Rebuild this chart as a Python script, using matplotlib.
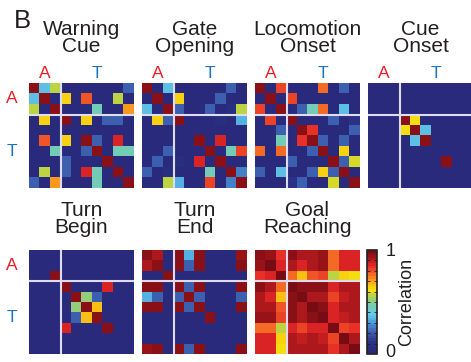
import numpy as np
import matplotlib
matplotlib.use("Agg")
from matplotlib import pyplot as plt
from matplotlib.colors import LinearSegmentedColormap

plt.rcParams['font.family'] = ['Liberation Sans', 'DejaVu Sans']

W, H = 471, 362

titles = ["Warning\nCue", "Gate\nOpening", "Locomotion\nOnset", "Cue\nOnset",
          "Turn\nBegin", "Turn\nEnd", "Goal\nReaching"]
n_a = 3  # first 3 cells are A, remaining 7 are T

warning_cue = [
    [.97, .36, .56, .03, .03, .03, .03, .03, .03, .20],
    [.36, .97, .03, .63, .03, .78, .03, .03, .56, .03],
    [.56, .03, .97, .03, .03, .03, .45, .03, .03, .70],
    [.03, .63, .03, .97, .03, .63, .03, .20, .20, .03],
    [.03, .03, .03, .03, .03, .03, .03, .03, .03, .03],
    [.03, .78, .03, .63, .03, .97, .20, .03, .85, .03],
    [.03, .03, .45, .03, .03, .20, .97, .03, .45, .45],
    [.03, .03, .03, .20, .03, .03, .03, .97, .03, .03],
    [.03, .56, .03, .20, .03, .85, .45, .03, .97, .03],
    [.20, .03, .70, .03, .03, .03, .45, .03, .03, .97],
]
gate_opening = [
    [.97, .03, .36, .03, .03, .03, .03, .03, .20, .03],
    [.03, .97, .03, .63, .03, .03, .03, .20, .03, .03],
    [.36, .03, .97, .20, .03, .03, .20, .03, .08, .56],
    [.03, .63, .20, .97, .03, .03, .03, .08, .03, .33],
    [.03, .03, .03, .03, .03, .03, .03, .03, .03, .03],
    [.03, .03, .03, .03, .03, .97, .03, .87, .03, .03],
    [.03, .03, .20, .03, .03, .03, .97, .03, .45, .80],
    [.03, .20, .03, .08, .03, .87, .03, .97, .03, .03],
    [.20, .03, .08, .03, .03, .03, .45, .03, .97, .25],
    [.03, .03, .56, .33, .03, .03, .80, .03, .25, .97],
]
locomotion_onset = [
    [.97, .03, .80, .03, .03, .03, .76, .03, .20, .03],
    [.03, .97, .03, .80, .03, .03, .03, .03, .03, .03],
    [.80, .03, .97, .03, .20, .45, .76, .03, .36, .03],
    [.03, .80, .03, .97, .03, .03, .03, .20, .03, .10],
    [.03, .03, .20, .03, .97, .84, .03, .03, .03, .20],
    [.03, .03, .45, .03, .84, .97, .20, .03, .20, .03],
    [.76, .03, .76, .03, .03, .20, .97, .03, .63, .03],
    [.03, .03, .03, .20, .03, .03, .03, .97, .20, .58],
    [.20, .03, .36, .03, .03, .20, .63, .20, .97, .03],
    [.03, .03, .03, .10, .20, .03, .03, .58, .03, .97],
]
cue_onset = [
    [.03, .03, .03, .03, .03, .03, .03, .03, .03, .03],
    [.03, .03, .03, .03, .03, .03, .03, .03, .03, .03],
    [.03, .03, .03, .03, .03, .03, .03, .03, .03, .03],
    [.03, .03, .03, .97, .62, .03, .03, .03, .03, .03],
    [.03, .03, .03, .62, .97, .36, .03, .03, .03, .03],
    [.03, .03, .03, .03, .36, .97, .03, .03, .03, .03],
    [.03, .03, .03, .03, .03, .03, .03, .03, .03, .03],
    [.03, .03, .03, .03, .03, .03, .03, .97, .03, .03],
    [.03, .03, .03, .03, .03, .03, .03, .03, .03, .03],
    [.03, .03, .03, .03, .03, .03, .03, .03, .03, .03],
]
turn_begin = [
    [.03, .03, .03, .03, .03, .03, .03, .03, .03, .03],
    [.03, .03, .03, .03, .03, .03, .03, .03, .03, .03],
    [.03, .03, .97, .03, .03, .03, .03, .03, .03, .03],
    [.03, .03, .03, .97, .03, .03, .03, .87, .03, .03],
    [.03, .03, .03, .03, .97, .52, .22, .03, .03, .03],
    [.03, .03, .03, .03, .52, .97, .66, .03, .03, .03],
    [.03, .03, .03, .03, .22, .66, .97, .03, .03, .03],
    [.03, .03, .03, .87, .03, .03, .03, .97, .03, .03],
    [.03, .03, .03, .03, .03, .03, .03, .03, .03, .03],
    [.03, .03, .03, .03, .03, .03, .03, .03, .03, .03],
]
turn_end = [
    [.97, .92, .03, .95, .33, .95, .03, .03, .03, .93],
    [.92, .97, .03, .95, .22, .95, .03, .03, .03, .95],
    [.03, .03, .97, .03, .03, .03, .03, .03, .03, .03],
    [.95, .95, .03, .97, .22, .95, .03, .03, .03, .95],
    [.33, .22, .03, .22, .97, .22, .03, .03, .03, .22],
    [.95, .95, .03, .95, .22, .97, .03, .03, .03, .95],
    [.03, .03, .03, .03, .03, .03, .97, .03, .03, .03],
    [.03, .03, .03, .03, .03, .03, .03, .03, .03, .03],
    [.03, .03, .03, .03, .03, .03, .03, .03, .03, .03],
    [.93, .95, .03, .95, .22, .95, .03, .03, .03, .97],
]
goal_reaching = [
    [.97, .93, .83, .95, .92, .92, .94, .75, .86, .86],
    [.93, 1.0, .86, .92, .86, .90, .93, .75, .86, .86],
    [.83, .86, 1.0, .76, .65, .79, .80, .55, .63, .60],
    [.95, .92, .76, 1.0, .95, .97, .97, .85, .90, .90],
    [.92, .86, .65, .95, 1.0, .90, .90, .80, .88, .90],
    [.92, .90, .79, .97, .90, 1.0, .97, .85, .90, .90],
    [.94, .93, .80, .97, .90, .97, 1.0, .85, .88, .90],
    [.75, .75, .55, .85, .80, .85, .85, 1.0, .80, .83],
    [.86, .86, .63, .90, .88, .90, .88, .80, 1.0, .92],
    [.86, .86, .60, .90, .90, .90, .90, .83, .92, 1.0],
]
matrices = [warning_cue, gate_opening, locomotion_onset, cue_onset,
            turn_begin, turn_end, goal_reaching]

# jet-like map, slightly muted at the blue end
cmap = LinearSegmentedColormap.from_list("corr", [
    (0.00, (0.16, 0.16, 0.47)),
    (0.10, (0.17, 0.19, 0.52)),
    (0.20, (0.24, 0.36, 0.68)),
    (0.30, (0.28, 0.62, 0.87)),
    (0.38, (0.40, 0.80, 0.90)),
    (0.46, (0.45, 0.80, 0.72)),
    (0.55, (0.68, 0.82, 0.32)),
    (0.62, (0.97, 0.88, 0.05)),
    (0.70, (0.98, 0.66, 0.10)),
    (0.78, (0.95, 0.38, 0.15)),
    (0.86, (0.90, 0.15, 0.15)),
    (0.94, (0.62, 0.08, 0.10)),
    (1.00, (0.47, 0.05, 0.08)),
], N=40)

A_COL = '#ec1c24'
T_COL = '#1c75bc'
TXT = '#231f20'


def px_rect(x0, y0, x1, y1):
    return [x0 / W, 1 - y1 / H, (x1 - x0) / W, (y1 - y0) / H]


fig = plt.figure(figsize=(W / 100, H / 100), dpi=100)

# pixel boxes for each matrix
boxes = [(29, 83, 134, 188), (142, 83, 247, 188), (255, 83, 360, 188), (368, 83, 473, 188),
         (29, 250, 134, 354), (142, 250, 247, 354), (255, 250, 360, 354)]

for i, (m, box) in enumerate(zip(matrices, boxes)):
    ax = fig.add_axes(px_rect(*box))
    im = ax.imshow(np.array(m), cmap=cmap, vmin=0, vmax=1, aspect='auto',
                   interpolation='nearest')
    ax.axvline(n_a - 0.5, color='#dedcf0', lw=1.5)
    ax.axhline(n_a - 0.5, color='#dedcf0', lw=1.5)
    ax.set_axis_off()

    x0, y0, x1, y1 = box
    cx = (x0 + x1) / 2
    cell = (x1 - x0) / 10.0
    if i < 4:
        fig.text(cx / W, 1 - 38 / H, titles[i], ha='center', va='center',
                 fontsize=15, color=TXT, linespacing=0.92)
        fig.text((x0 + 1.5 * cell) / W, 1 - 74 / H, "A", color=A_COL,
                 ha='center', va='center', fontsize=12.5)
        fig.text((x0 + 6.5 * cell) / W, 1 - 74 / H, "T", color=T_COL,
                 ha='center', va='center', fontsize=12.5)
    else:
        fig.text(cx / W, 1 - 219 / H, titles[i], ha='center', va='center',
                 fontsize=15, color=TXT, linespacing=0.92)
    if i in (0, 4):
        ch = (y1 - y0) / 10.0
        fig.text(12 / W, 1 - (y0 + 1.5 * ch) / H, "A", color=A_COL,
                 ha='center', va='center', fontsize=12.5)
        fig.text(12 / W, 1 - (y0 + 6.5 * ch) / H, "T", color=T_COL,
                 ha='center', va='center', fontsize=12.5)

fig.text(22 / W, 1 - 21 / H, "B", ha='center', va='center', fontsize=18.5, color=TXT)

cax = fig.add_axes(px_rect(367, 250, 377, 354))
cb = fig.colorbar(im, cax=cax, ticks=[0.03, 1])
cb.set_ticklabels(['0', '1'])
cb.outline.set_linewidth(1.2)
cb.outline.set_edgecolor('#231f20')
cax.tick_params(labelsize=13, length=0, pad=6, colors=TXT)
cax.set_yticks(np.arange(0.1, 1.0, 0.1), minor=True)
cax.tick_params(which='minor', direction='in', length=2, left=True, right=True, color='#231f20')
cb.set_label("Correlation", fontsize=13, color=TXT, labelpad=2)

fig.savefig("out.png", dpi=100)
